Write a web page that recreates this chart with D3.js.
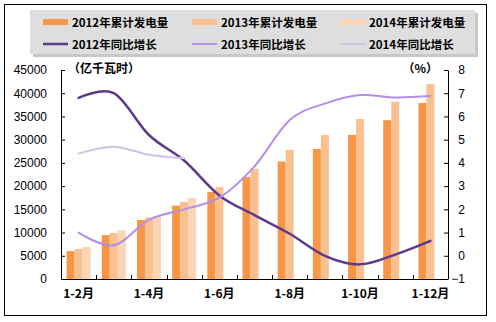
<!DOCTYPE html>
<html><head><meta charset="utf-8">
<script src="https://cdn.jsdelivr.net/npm/d3@7"></script>
<style>body{margin:0;background:#fff}svg{display:block}</style>
</head><body>
<svg id="c" width="496" height="322"></svg>
<script>
const categories = ["1-2月","1-3月","1-4月","1-5月","1-6月","1-7月","1-8月","1-9月","1-10月","1-11月","1-12月"];
const shownLabels = ["1-2月","1-4月","1-6月","1-8月","1-10月","1-12月"];
const gen2012 = [6000, 9450, 12700, 15800, 18750, 22000, 25300, 28000, 31000, 34200, 37900];
const gen2013 = [6450, 9950, 13250, 16600, 19800, 23700, 27800, 31000, 34450, 38200, 42000];
const gen2014 = [6900, 10500, 13600, 17400];
const growth2012 = [6.8, 7.0, 5.2, 4.1, 2.6, 1.75, 0.95, 0.0, -0.37, 0.05, 0.64];
const growth2013 = [1.0, 0.45, 1.55, 2.0, 2.5, 3.85, 5.85, 6.55, 6.92, 6.82, 6.88];
const growth2014 = [4.4, 4.7, 4.35, 4.2];
const leftTicks = [0,5000,10000,15000,20000,25000,30000,35000,40000,45000];
const rightTicks = [-1,0,1,2,3,4,5,6,7,8];
const barNames = ["2012年累计发电量","2013年累计发电量","2014年累计发电量"];
const lineNames = ["2012年同比增长","2013年同比增长","2014年同比增长"];

const barColors = ["#F79646","#FAC090","#FCD5B5"];
const lineColors = ["#5F3A8A","#B38FE8","#CFC2EA"];
const lineWidths = [2.5, 2, 2];

const svg = d3.select("#c");
svg.append("rect").attr("width",496).attr("height",322).attr("fill","#fff");
svg.append("rect").attr("x",4.5).attr("y",4.5).attr("width",482).attr("height",311)
  .attr("fill","none").attr("stroke","#000").attr("stroke-width",1);

const L = 61, R = 448, T = 70, B = 279;
const x = d3.scaleBand().domain(categories).range([L,R]).padding(0);
const yL = d3.scaleLinear().domain([0,45000]).range([B,T]);
const yR = d3.scaleLinear().domain([-1,8]).range([B,T]);

// bars
const barW = 8;
const series = [gen2012, gen2013, gen2014];
series.forEach((vals,si)=>{
  svg.append("g").selectAll("rect").data(vals).join("rect")
    .attr("x",(d,i)=>x(categories[i]) + x.bandwidth()/2 - 1.5*barW + si*barW)
    .attr("y",d=>yL(d))
    .attr("width",barW)
    .attr("height",d=>B-yL(d))
    .attr("fill",barColors[si]);
});

// axes
const numFont = "'Liberation Sans', Arial, sans-serif";
const cjkFont = "'Noto Sans CJK SC', sans-serif";
const gL = svg.append("g").attr("transform",`translate(${L},0)`)
  .call(d3.axisLeft(yL).tickValues(leftTicks).tickFormat(d3.format("d")).tickSize(-4).tickPadding(14).tickSizeOuter(0));
const gR = svg.append("g").attr("transform",`translate(${R},0)`)
  .call(d3.axisRight(yR).tickValues(rightTicks).tickFormat(d3.format("d")).tickSize(-4).tickSizeOuter(0));
gR.selectAll("text").attr("x",17).attr("text-anchor","end");
[gL,gR].forEach(g=>{
  g.select(".domain").attr("stroke","#000");
  g.selectAll(".tick line").attr("stroke","#000");
  g.selectAll("text").attr("font-family",numFont).attr("font-size",12).attr("fill","#000");
});
// bottom axis
svg.append("line").attr("x1",L).attr("x2",R).attr("y1",B+0.5).attr("y2",B+0.5).attr("stroke","#000");
const bounds = categories.map(c=>x(c)).concat([x(categories[categories.length-1])+x.bandwidth()]);
svg.append("g").selectAll("line").data(bounds.slice(1,-1)).join("line")
  .attr("x1",d=>Math.round(d)+0.5).attr("x2",d=>Math.round(d)+0.5)
  .attr("y1",B).attr("y2",B-4).attr("stroke","#000");
svg.append("g").selectAll("text").data(shownLabels).join("text")
  .attr("x",d=>x(d)+x.bandwidth()/2).attr("y",298)
  .attr("text-anchor","middle").attr("font-family",cjkFont).attr("font-weight","bold")
  .attr("font-size",12).attr("fill","#000").text(d=>d);

// lines
const growths = [growth2012, growth2013, growth2014];
growths.forEach((vals,si)=>{
  const line = d3.line()
    .x((d,i)=>x(categories[i])+x.bandwidth()/2)
    .y(d=>yR(d))
    .curve(d3.curveCardinal.tension(0));
  svg.append("path").datum(vals).attr("d",line)
    .attr("fill","none").attr("stroke",lineColors[si]).attr("stroke-width",lineWidths[si])
    .attr("stroke-linejoin","round").attr("stroke-linecap","round");
});

// unit labels
svg.append("text").attr("x",68).attr("y",73).attr("font-family",cjkFont).attr("font-weight","bold")
  .attr("font-size",12).attr("fill","#000").text("（亿千瓦时）");
svg.append("text").attr("x",438).attr("y",73).attr("text-anchor","end").attr("font-family",cjkFont).attr("font-weight","bold")
  .attr("font-size",12).attr("fill","#000").text("（%）");

// legend
svg.append("rect").attr("x",33).attr("y",13).attr("width",445).attr("height",44).attr("fill","#9a9a9a").attr("opacity",0.55);
svg.append("rect").attr("x",30).attr("y",10).attr("width",445).attr("height",44).attr("fill","#dedede");
const colX = [43, 192, 340];
barNames.forEach((n,i)=>{
  svg.append("rect").attr("x",colX[i]).attr("y",19).attr("width",25).attr("height",6).attr("fill",barColors[i]);
  svg.append("text").attr("x",colX[i]+29).attr("y",27).attr("font-family",cjkFont).attr("font-weight","bold")
    .attr("font-size",11.5).attr("fill","#000").text(n);
});
lineNames.forEach((n,i)=>{
  svg.append("line").attr("x1",colX[i]).attr("x2",colX[i]+25).attr("y1",44).attr("y2",44)
    .attr("stroke",lineColors[i]).attr("stroke-width",lineWidths[i]);
  svg.append("text").attr("x",colX[i]+29).attr("y",49).attr("font-family",cjkFont).attr("font-weight","bold")
    .attr("font-size",11.5).attr("fill","#000").text(n);
});
</script>
</body></html>
